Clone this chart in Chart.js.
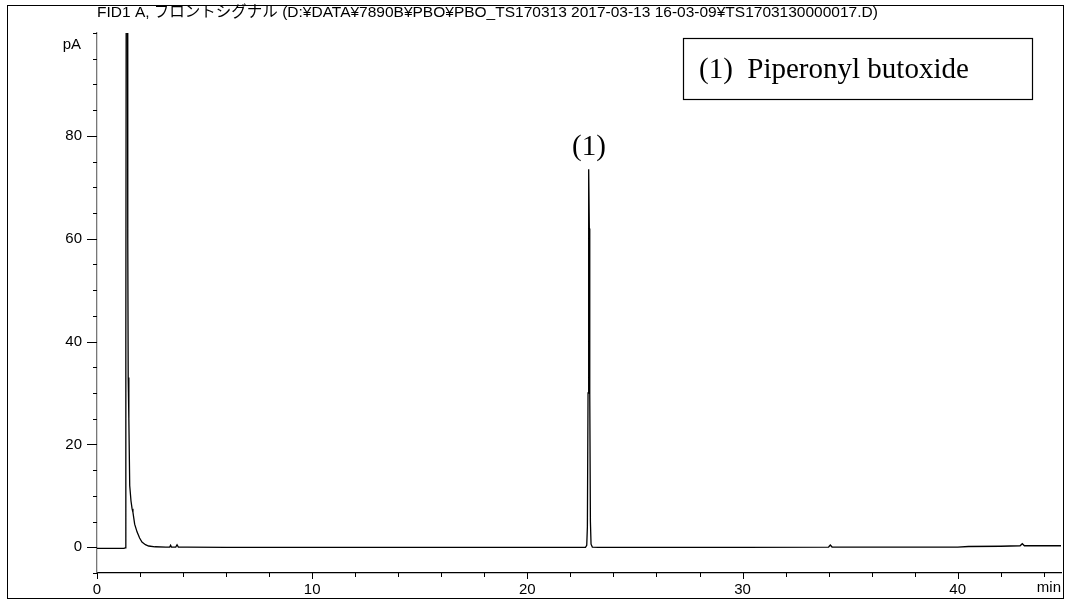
<!DOCTYPE html>
<html>
<head>
<meta charset="utf-8">
<script src="https://cdn.jsdelivr.net/npm/chart.js@4.4.1/dist/chart.umd.min.js"></script>
<style>
html,body{margin:0;padding:0;background:#fff;}
#wrap{width:1069px;height:603px;}
</style>
</head>
<body>
<div id="wrap"><canvas id="c" width="1069" height="603"></canvas></div>
<script>
// ---- data ----
const titleText = "FID1 A, フロントシグナル (D:¥DATA¥7890B¥PBO¥PBO_TS170313 2017-03-13 16-03-09¥TS1703130000017.D)";
const yUnit = "pA";
const xUnit = "min";
const peakLabels = ["(1)"];
const peakTimes = [22.86];
const peakLabelValues = [77.8];
const legendText = "(1)  Piperonyl butoxide";

const times = [0, 0.5, 1.0, 1.25, 1.31, 1.34, 1.37, 1.40, 1.43, 1.45, 1.48, 1.52, 1.58, 1.63, 1.67, 1.75, 1.86, 1.98, 2.09, 2.25, 2.40, 2.70, 3.20, 3.38, 3.42, 3.46, 3.66, 3.72, 3.78, 4.2, 6.0, 8.0, 10.0, 14.0, 18.0, 20.0, 22.0, 22.70, 22.76, 22.79, 22.82, 22.84, 22.86, 22.88, 22.90, 22.93, 22.96, 23.02, 23.3, 26.0, 30.0, 34.0, 34.08, 34.16, 36.0, 40.0, 40.5, 42.0, 42.9, 43.0, 43.1, 44.8];
const signal = [-0.2, -0.2, -0.2, -0.2, -0.1, 40, 160, 160, 60, 33, 25, 12, 9, 7.5, 6.8, 4.5, 3.0, 1.8, 1.0, 0.5, 0.25, 0.1, 0.05, 0.05, 0.4, 0.05, 0.05, 0.5, 0.05, 0.02, 0.0, 0.0, 0.0, 0.0, 0.0, 0.0, 0.0, 0.0, 0.4, 4, 30, 60, 73.5, 62, 30, 5, 0.6, 0.05, 0.0, 0.0, 0.0, 0.05, 0.45, 0.05, 0.05, 0.05, 0.15, 0.2, 0.3, 0.7, 0.3, 0.3];

const xMin = 0, xMax = 44.8, xStep = 2, xMajor = 10;
const yMin = -5, yMax = 100, yStep = 5, yMajor = 20;

const points = times.map((t, i) => ({x: t, y: signal[i]}));

const SANS = "'Liberation Sans', Arial, 'Noto Sans CJK JP', sans-serif";
const SERIF = "'Liberation Serif', 'Times New Roman', serif";

const decor = {
  id: 'decor',
  beforeDraw(chart) {
    const ctx = chart.ctx;
    ctx.save();
    ctx.fillStyle = '#fff';
    ctx.fillRect(0, 0, chart.width, chart.height);
    ctx.restore();
  },
  afterDraw(chart) {
    const ctx = chart.ctx;
    const xs = chart.scales.x, ys = chart.scales.y;
    const ca = chart.chartArea;
    ctx.save();
    // outer frame
    ctx.strokeStyle = '#000';
    ctx.lineWidth = 1;
    ctx.strokeRect(7.5, 5.5, 1056, 593);
    // title
    ctx.fillStyle = '#000';
    ctx.font = "15.5px " + SANS;
    ctx.textBaseline = 'middle';
    ctx.textAlign = 'left';
    ctx.fillText(titleText, ca.left, 13);
    // y ticks
    ctx.strokeStyle = '#000';
    ctx.lineWidth = 1;
    for (let v = yMin; v <= yMax; v += yStep) {
      const py = Math.round(ys.getPixelForValue(v)) + 0.5;
      const len = (v % yMajor === 0 && v >= 0 && v < yMax) ? 10 : 4;
      ctx.beginPath();
      ctx.moveTo(ca.left - len, py);
      ctx.lineTo(ca.left, py);
      ctx.stroke();
    }
    // x ticks
    for (let v = xMin; v <= xMax + 1e-9; v += xStep) {
      const px = Math.round(xs.getPixelForValue(v)) + 0.5;
      const len = (v % xMajor === 0) ? 6 : 4;
      ctx.beginPath();
      ctx.moveTo(px, ca.bottom);
      ctx.lineTo(px, ca.bottom + len);
      ctx.stroke();
    }
    // unit labels
    ctx.font = "15px " + SANS;
    ctx.textAlign = 'right';
    ctx.textBaseline = 'middle';
    ctx.fillText(yUnit, ca.left - 16, 45);
    ctx.fillText(xUnit, ca.right, 588);
    // peak labels
    ctx.font = "29px " + SERIF;
    ctx.textAlign = 'center';
    ctx.textBaseline = 'middle';
    peakLabels.forEach((lab, i) => {
      ctx.fillText(lab, xs.getPixelForValue(peakTimes[i]), ys.getPixelForValue(peakLabelValues[i]));
    });
    // legend box
    ctx.strokeStyle = '#000';
    ctx.lineWidth = 1.2;
    ctx.strokeRect(683.5, 38.5, 349, 61);
    ctx.textAlign = 'left';
    ctx.fillText(legendText, 699, 70);
    ctx.restore();
  }
};

new Chart(document.getElementById('c'), {
  type: 'line',
  data: {
    datasets: [{
      data: points,
      borderColor: '#000',
      borderWidth: 1.3,
      pointRadius: 0,
      tension: 0,
      fill: false
    }]
  },
  options: {
    responsive: false,
    animation: false,
    events: [],
    layout: {padding: {left: 0, top: 33, right: 8, bottom: 0}},
    plugins: {legend: {display: false}, title: {display: false}, tooltip: {enabled: false}},
    scales: {
      x: {
        type: 'linear', min: xMin, max: xMax,
        afterFit(s) { s.height = 30; },
        grid: {display: true, drawOnChartArea: false, drawTicks: false},
        border: {display: true, color: '#000', width: 1.3},
        ticks: {
          stepSize: xStep, autoSkip: false, maxRotation: 0, padding: 8,
          color: '#000', font: {family: SANS, size: 15},
          callback: (v) => (v % xMajor === 0 ? String(v) : '')
        }
      },
      y: {
        type: 'linear', min: yMin, max: yMax,
        afterFit(s) { s.width = 97; },
        grid: {display: true, drawOnChartArea: false, drawTicks: false},
        border: {display: true, color: '#777', width: 1.3},
        ticks: {
          stepSize: yStep, autoSkip: false, padding: 15,
          color: '#000', font: {family: SANS, size: 15},
          callback: (v) => (v % yMajor === 0 && v >= 0 && v < yMax ? String(v) : '')
        }
      }
    }
  },
  plugins: [decor]
});
</script>
</body>
</html>
